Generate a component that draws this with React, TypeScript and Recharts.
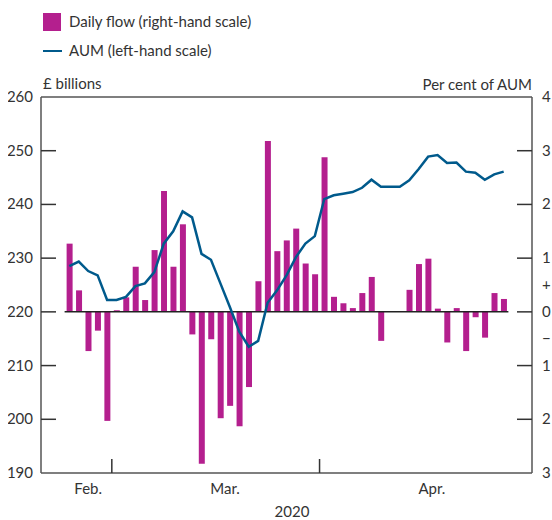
import React from "react";
import { ComposedChart, Bar, Line, XAxis, YAxis, ReferenceLine } from "recharts";

// Business days, 24 Feb 2020 to 28 Apr 2020 (10 & 13 Apr are UK bank holidays)
const dates = [
  "24 Feb", "25 Feb", "26 Feb", "27 Feb", "28 Feb",
  "2 Mar", "3 Mar", "4 Mar", "5 Mar", "6 Mar",
  "9 Mar", "10 Mar", "11 Mar", "12 Mar", "13 Mar",
  "16 Mar", "17 Mar", "18 Mar", "19 Mar", "20 Mar",
  "23 Mar", "24 Mar", "25 Mar", "26 Mar", "27 Mar",
  "30 Mar", "31 Mar",
  "1 Apr", "2 Apr", "3 Apr",
  "6 Apr", "7 Apr", "8 Apr", "9 Apr",
  "10 Apr", "13 Apr",
  "14 Apr", "15 Apr", "16 Apr", "17 Apr",
  "20 Apr", "21 Apr", "22 Apr", "23 Apr", "24 Apr",
  "27 Apr", "28 Apr",
];

// Daily flow, per cent of AUM (right-hand scale)
const dailyFlow: (number | null)[] = [
  1.27, 0.40, -0.73, -0.35, -2.03,
  0.03, 0.27, 0.84, 0.22, 1.15,
  2.25, 0.84, 1.63, -0.42, -2.83,
  -0.51, -1.98, -1.75, -2.13, -1.40,
  0.57, 3.18, 1.13, 1.33, 1.55,
  0.90, 0.70,
  2.88, 0.28, 0.16,
  0.07, 0.35, 0.65, -0.54,
  null, null,
  0.41, 0.89, 0.99, 0.06,
  -0.57, 0.07, -0.73, -0.10, -0.48,
  0.35, 0.24,
];

// AUM, £ billions (left-hand scale)
const aum = [
  228.5, 229.35, 227.6, 226.8, 222.2,
  222.2, 222.8, 224.8, 225.3, 227.4,
  232.7, 235.0, 238.7, 237.6, 230.8,
  229.7, 225.3, 220.9, 216.3, 213.5,
  214.6, 221.7, 224.0, 226.8, 230.2,
  232.7, 234.1,
  241.0, 241.7, 242.0,
  242.3, 243.1, 244.6, 243.3,
  243.3, 243.3,
  244.5, 246.6, 248.9, 249.2,
  247.7, 247.8, 246.1, 245.9, 244.6,
  245.6, 246.1,
];

const leftTicks = [190, 200, 210, 220, 230, 240, 250, 260];
const rightTicks = [-3, -2, -1, -0.5, 0, 0.5, 1, 2, 3, 4];
const monthBoundaries = [4.5, 26.5];
const monthLabels = [
  { pos: 2, label: "Feb." },
  { pos: 16.5, label: "Mar." },
  { pos: 38.4, label: "Apr." },
];

const data = dates.map((d, i) => ({ i, date: d, flow: dailyFlow[i], aum: aum[i] }));

const FONT = "Lato, 'Noto Sans', sans-serif";
const TEXT = "#333333";
const AXIS = "#555555";
const TICK = "#333333";
const MAGENTA = "#B41F8E";
const BLUE = "#005A8C";

const LeftTick = (props: any) => {
  const { x, y, payload } = props;
  const v = payload.value;
  const axisX = x + 8;
  return (
    <g>
      {v > 190 && v < 260 && (
        <line x1={axisX} x2={axisX + 15} y1={y} y2={y} stroke={TICK} strokeWidth={1.5} />
      )}
      <text x={x} y={y} dy={5} textAnchor="end" fill={TEXT} fontSize={15} fontFamily={FONT}>
        {v}
      </text>
    </g>
  );
};

const RightTick = (props: any) => {
  const { x, y, payload } = props;
  const v = payload.value;
  const axisX = x - 10;
  let label = String(Math.abs(v));
  if (v === 0.5) label = "+";
  if (v === -0.5) label = "\u2212";
  const showLine = Number.isInteger(v) && v > -3 && v < 4;
  return (
    <g>
      {showLine && (
        <line x1={axisX - 15} x2={axisX} y1={y} y2={y} stroke={TICK} strokeWidth={1.5} />
      )}
      <text x={x} y={y} dy={5} textAnchor="start" fill={TEXT} fontSize={15} fontFamily={FONT}>
        {label}
      </text>
    </g>
  );
};

const XTick = (props: any) => {
  const { x, y, payload } = props;
  const v = payload.value;
  if (monthBoundaries.includes(v)) {
    return <line x1={x} x2={x} y1={y} y2={y - 14} stroke={TICK} strokeWidth={1.5} />;
  }
  const m = monthLabels.find((ml) => ml.pos === v);
  return (
    <text x={x} y={y} dy={21} textAnchor="middle" fill={TEXT} fontSize={15} fontFamily={FONT}>
      {m ? m.label : ""}
    </text>
  );
};

export default function App() {
  const xTicks = [...monthBoundaries, ...monthLabels.map((m) => m.pos)].sort((a, b) => a - b);
  return (
    <div style={{ width: 552, height: 520, padding: 8, boxSizing: "border-box" }}>
      <style>{`html { overflow: hidden; } body { margin: 0; }`}</style>
      <div style={{ position: "relative", width: 544, height: 512, fontFamily: FONT, color: TEXT }}>
        {/* Legend */}
        <div style={{ position: "absolute", left: 35, top: 5, width: 18, height: 18, background: MAGENTA }} />
        <div style={{ position: "absolute", left: 61, top: 4, fontSize: 15, lineHeight: "18px", whiteSpace: "nowrap" }}>
          Daily flow (right-hand scale)
        </div>
        <div style={{ position: "absolute", left: 35, top: 41.5, width: 19, height: 2.5, background: BLUE }} />
        <div style={{ position: "absolute", left: 61, top: 33, fontSize: 15, lineHeight: "18px", whiteSpace: "nowrap" }}>
          AUM (left-hand scale)
        </div>
        {/* Axis titles */}
        <div style={{ position: "absolute", left: 35, top: 66, fontSize: 15, lineHeight: "18px", whiteSpace: "nowrap" }}>
          £ billions
        </div>
        <div style={{ position: "absolute", right: 20, top: 67, fontSize: 15, lineHeight: "18px", whiteSpace: "nowrap" }}>
          Per cent of AUM
        </div>
        <div style={{ position: "absolute", left: 284, top: 494, fontSize: 15, lineHeight: "18px", transform: "translateX(-50%)", whiteSpace: "nowrap" }}>
          2020
        </div>

        <ComposedChart
          width={544}
          height={512}
          data={data}
          margin={{ top: 89, right: 0, bottom: 0, left: 0 }}
          style={{ overflow: "visible" }}
        >
          <XAxis
            dataKey="i"
            type="number"
            domain={[-3, 49]}
            ticks={xTicks}
            interval={0}
            tick={<XTick />}
            tickLine={false}
            tickSize={0}
            tickMargin={0}
            axisLine={{ stroke: AXIS, strokeWidth: 1.5 }}
            height={47}
            allowDataOverflow
          />
          <YAxis
            yAxisId="left"
            orientation="left"
            domain={[190, 260]}
            ticks={leftTicks}
            interval={0}
            tick={<LeftTick />}
            tickLine={false}
            tickSize={0}
            tickMargin={8}
            axisLine={{ stroke: AXIS, strokeWidth: 1.5 }}
            width={33}
            allowDataOverflow
          />
          <YAxis
            yAxisId="right"
            orientation="right"
            domain={[-3, 4]}
            ticks={rightTicks}
            interval={0}
            tick={<RightTick />}
            tickLine={false}
            tickSize={0}
            tickMargin={10}
            axisLine={{ stroke: AXIS, strokeWidth: 1.5 }}
            width={20}
            allowDataOverflow
          />
          <ReferenceLine yAxisId="left" y={260} stroke={AXIS} strokeWidth={1.5} ifOverflow="visible" />
          <Bar yAxisId="right" dataKey="flow" fill={MAGENTA} barSize={6} isAnimationActive={false} />
          <ReferenceLine
            yAxisId="right"
            segment={[{ x: -0.5, y: 0 }, { x: 46.5, y: 0 }]}
            stroke="#222222"
            strokeWidth={1.5}
            ifOverflow="visible"
          />
          <Line
            yAxisId="left"
            dataKey="aum"
            stroke={BLUE}
            strokeWidth={2.5}
            dot={false}
            activeDot={false}
            type="linear"
            isAnimationActive={false}
          />
        </ComposedChart>
      </div>
    </div>
  );
}
